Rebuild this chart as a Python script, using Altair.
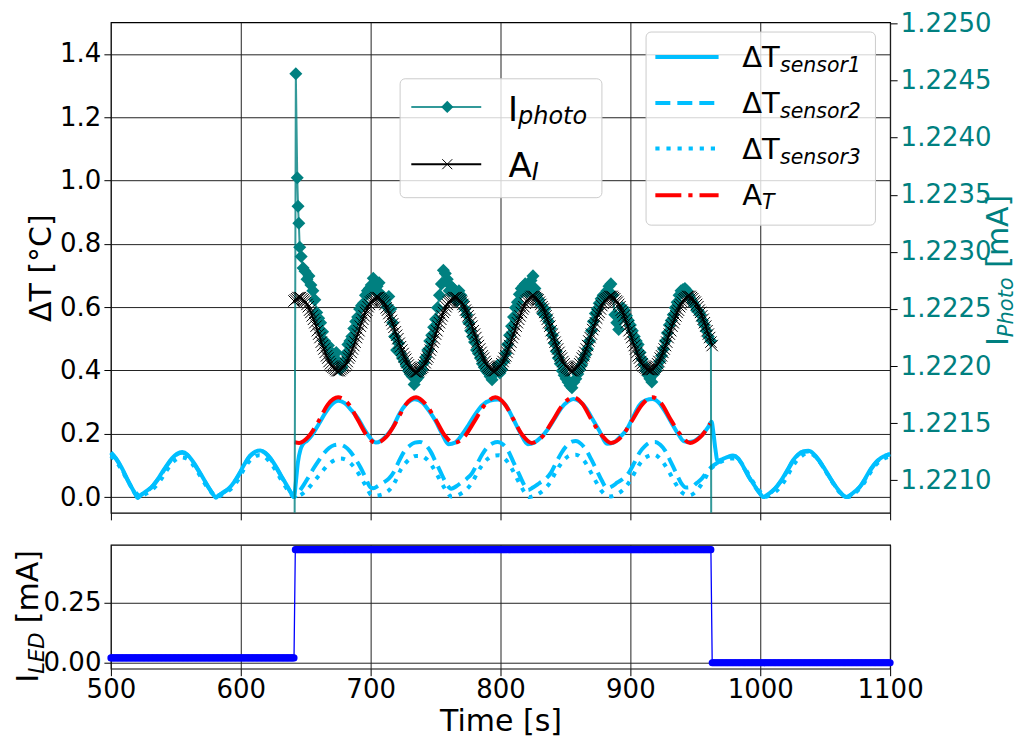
import altair as alt
import pandas as pd

# ---------------- colours / fonts ----------------
TEAL = "#008080"
SKY = "#00BFFF"
RED = "#FF0000"
BLUE = "#0000FF"
FONT = "DejaVu Sans"

# ---------------- axes ----------------
X_DOMAIN = [500, 1100]
X_TICKS = [500, 600, 700, 800, 900, 1000, 1100]
DT_DOMAIN = [-0.05, 1.5]
DT_TICKS = [0.0, 0.2, 0.4, 0.6, 0.8, 1.0, 1.2, 1.4]
IP_DOMAIN = [1.220715, 1.22501]
IP_TICKS = [1.2210, 1.2215, 1.2220, 1.2225, 1.2230, 1.2235, 1.2240, 1.2245, 1.2250]
LED_DOMAIN = [-0.025, 0.49]
LED_TICKS = [0.0, 0.25]

# ---------------- data ----------------
SENSOR1 = [
    (500, 0.141), (504, 0.122), (508, 0.095), (512, 0.062), (516, 0.030), (519, 0.008), (520.7, -0.003),
    (523, 0.006), (527, 0.018), (531, 0.030), (535, 0.050), (539, 0.075), (543, 0.100), (547, 0.122),
    (551, 0.137), (555, 0.142), (559, 0.134), (563, 0.113), (567, 0.088), (571, 0.060), (575, 0.032),
    (578.5, 0.010), (580.8, -0.002), (583, 0.005), (587, 0.016), (591, 0.028), (595, 0.048), (599, 0.075),
    (603, 0.105), (607, 0.130), (611, 0.143), (615, 0.147), (619, 0.140), (623, 0.122), (627, 0.097),
    (631, 0.068), (635, 0.040), (638.5, 0.015), (641, 0.0),
    (642.5, 0.05), (644, 0.11), (646, 0.150), (648, 0.168), (651, 0.178), (655, 0.197), (660, 0.230),
    (665, 0.265), (670, 0.292), (675, 0.304), (680, 0.297), (685, 0.275), (690, 0.250), (695, 0.215),
    (700, 0.185), (704, 0.172), (708, 0.178), (712, 0.193), (717, 0.220), (722, 0.262), (727, 0.292),
    (734, 0.309), (740, 0.298), (745, 0.272), (750, 0.240), (755, 0.200), (760, 0.167), (765, 0.172),
    (770, 0.195), (775, 0.225), (780, 0.258), (786, 0.290), (792, 0.305), (798, 0.308), (804, 0.290),
    (810, 0.245), (815, 0.205), (821, 0.167), (826, 0.172), (831, 0.188), (836, 0.212), (842, 0.250),
    (847, 0.282), (852, 0.302), (856, 0.310), (861, 0.302), (866, 0.280), (871, 0.245), (876, 0.210),
    (882, 0.168), (887, 0.172), (892, 0.190), (897, 0.212), (902, 0.252), (907, 0.290), (912, 0.306),
    (917, 0.310), (922, 0.298), (927, 0.268), (932, 0.232), (937, 0.198), (941, 0.177), (945, 0.174),
    (949, 0.177), (953, 0.188), (957, 0.205), (960, 0.222), (962.5, 0.238), (964, 0.200), (965.5, 0.150),
    (967, 0.115), (971, 0.120), (975, 0.127), (979, 0.131), (983, 0.122), (987, 0.096), (991, 0.066),
    (995, 0.040), (999, 0.016), (1002.5, 0.0), (1005, 0.006), (1009, 0.018), (1013, 0.035), (1017, 0.058),
    (1021, 0.086), (1025, 0.115), (1029, 0.134), (1033, 0.144), (1037, 0.146), (1041, 0.137), (1045, 0.118),
    (1049, 0.093), (1053, 0.066), (1057, 0.040), (1061, 0.018), (1064.5, 0.003), (1066.7, 0.0), (1069, 0.005),
    (1073, 0.018), (1077, 0.034), (1081, 0.060), (1085, 0.088), (1089, 0.110), (1093, 0.124), (1097, 0.132),
    (1100, 0.135),
]

SENSOR2 = [
    (500, 0.139), (504, 0.120), (508, 0.093), (512, 0.060), (516, 0.029), (519, 0.008), (520.7, -0.002),
    (523, 0.006), (527, 0.017), (531, 0.029), (535, 0.049), (539, 0.073), (543, 0.098), (547, 0.120),
    (551, 0.135), (555, 0.140), (559, 0.132), (563, 0.111), (567, 0.086), (571, 0.058), (575, 0.031),
    (578.5, 0.010), (580.8, -0.001), (583, 0.005), (587, 0.015), (591, 0.027), (595, 0.047), (599, 0.073),
    (603, 0.103), (607, 0.128), (611, 0.141), (615, 0.145), (619, 0.138), (623, 0.120), (627, 0.095),
    (631, 0.066), (635, 0.039), (638.5, 0.014), (641, 0.0),
    (644, 0.012), (648, 0.035), (652, 0.062), (656, 0.090), (660, 0.115), (664, 0.138), (668, 0.155),
    (672, 0.164), (676, 0.166), (680, 0.160), (684, 0.145), (688, 0.122), (692, 0.095), (696, 0.062),
    (700, 0.030), (702, 0.028), (706, 0.036), (710, 0.046), (714, 0.058), (718, 0.080), (722, 0.115),
    (726, 0.145), (730, 0.162), (734, 0.172), (738, 0.174), (742, 0.166), (746, 0.145), (750, 0.112),
    (754, 0.078), (758, 0.045), (762, 0.026), (766, 0.034), (770, 0.046), (774, 0.058), (778, 0.075),
    (782, 0.105), (786, 0.135), (790, 0.158), (794, 0.170), (798, 0.174), (802, 0.166), (806, 0.145),
    (810, 0.110), (814, 0.075), (818, 0.040), (821, 0.022), (825, 0.030), (830, 0.044), (835, 0.058),
    (839, 0.078), (843, 0.110), (847, 0.140), (851, 0.162), (855, 0.175), (858, 0.177), (862, 0.168),
    (866, 0.148), (870, 0.118), (874, 0.085), (878, 0.052), (882, 0.028), (886, 0.034), (890, 0.046),
    (895, 0.060), (899, 0.078), (903, 0.108), (907, 0.140), (911, 0.160), (915, 0.172), (919, 0.174),
    (923, 0.165), (927, 0.145), (931, 0.112), (935, 0.078), (939, 0.045), (943, 0.030), (947, 0.032),
    (951, 0.044), (955, 0.058), (959, 0.080), (963, 0.097), (967, 0.108), (971, 0.118), (975, 0.126),
    (979, 0.130), (983, 0.121), (987, 0.095), (991, 0.065), (995, 0.039), (999, 0.015), (1002.5, 0.0),
    (1005, 0.006), (1009, 0.017), (1013, 0.034), (1017, 0.056), (1021, 0.084), (1025, 0.112), (1029, 0.133),
    (1033, 0.143), (1037, 0.144), (1041, 0.135), (1045, 0.116), (1049, 0.091), (1053, 0.065), (1057, 0.039),
    (1061, 0.017), (1064.5, 0.003), (1066.7, 0.0), (1069, 0.005), (1073, 0.017), (1077, 0.033), (1081, 0.058),
    (1085, 0.086), (1089, 0.108), (1093, 0.123), (1097, 0.132), (1100, 0.135),
]

SENSOR3 = [
    (500, 0.130), (504, 0.112), (508, 0.088), (512, 0.058), (516, 0.030), (520, 0.010), (522.5, 0.0),
    (526, 0.008), (530, 0.018), (534, 0.032), (538, 0.052), (542, 0.078), (546, 0.102), (550, 0.118),
    (554, 0.125), (558, 0.122), (562, 0.108), (566, 0.085), (570, 0.058), (574, 0.032), (578, 0.012),
    (582, 0.0), (586, 0.008), (590, 0.018), (594, 0.032), (598, 0.055), (602, 0.085), (606, 0.110),
    (610, 0.125), (614, 0.132), (618, 0.128), (622, 0.112), (626, 0.090), (630, 0.062), (634, 0.035),
    (638, 0.012), (641, 0.0),
    (645, 0.004), (649, 0.015), (653, 0.032), (657, 0.052), (661, 0.072), (665, 0.092), (669, 0.108),
    (673, 0.118), (677, 0.122), (681, 0.118), (685, 0.105), (689, 0.085), (693, 0.058), (697, 0.030),
    (700, 0.008), (703, 0.004), (707, 0.006), (711, 0.012), (715, 0.025), (719, 0.050), (723, 0.085),
    (727, 0.108), (731, 0.123), (735, 0.130), (739, 0.130), (743, 0.120), (747, 0.100), (751, 0.072),
    (755, 0.042), (759, 0.015), (762, 0.002), (766, 0.004), (770, 0.012), (774, 0.025), (778, 0.045),
    (782, 0.075), (786, 0.102), (790, 0.120), (794, 0.130), (799, 0.132), (803, 0.122), (807, 0.102),
    (811, 0.072), (815, 0.040), (819, 0.012), (822, 0.0), (826, 0.004), (830, 0.012), (834, 0.025),
    (838, 0.045), (842, 0.075), (846, 0.102), (850, 0.122), (854, 0.132), (858, 0.134), (862, 0.125),
    (866, 0.105), (870, 0.075), (874, 0.045), (878, 0.018), (882, 0.004), (885, 0.002), (889, 0.008),
    (893, 0.018), (897, 0.035), (901, 0.060), (905, 0.090), (909, 0.115), (913, 0.128), (918, 0.134),
    (922, 0.125), (926, 0.105), (930, 0.078), (934, 0.048), (938, 0.022), (942, 0.008), (945, 0.005),
    (949, 0.012), (953, 0.030), (957, 0.055), (961, 0.085), (965, 0.100), (969, 0.110), (973, 0.117),
    (977, 0.122), (981, 0.122), (985, 0.110), (989, 0.085), (993, 0.058), (997, 0.032), (1001, 0.012),
    (1004, 0.0), (1008, 0.008), (1012, 0.018), (1016, 0.035), (1020, 0.060), (1024, 0.090), (1028, 0.115),
    (1032, 0.130), (1036, 0.138), (1040, 0.135), (1044, 0.120), (1048, 0.098), (1052, 0.070), (1056, 0.044),
    (1060, 0.020), (1064, 0.005), (1068, 0.0), (1072, 0.010), (1076, 0.024), (1080, 0.045), (1084, 0.072),
    (1088, 0.097), (1092, 0.113), (1096, 0.123), (1100, 0.128),
]

A_T = [
    (641.5, 0.173), (645, 0.171), (652, 0.190), (660, 0.240), (667, 0.292), (675, 0.315), (683, 0.294),
    (690, 0.245), (697, 0.195), (704, 0.171), (712, 0.190), (720, 0.240), (727, 0.292), (735, 0.315),
    (742, 0.295), (750, 0.245), (757, 0.195), (764, 0.171), (772, 0.190), (780, 0.240), (788, 0.292),
    (796, 0.315), (803, 0.295), (810, 0.245), (817, 0.195), (824, 0.171), (832, 0.190), (840, 0.240),
    (848, 0.292), (856, 0.315), (863, 0.295), (870, 0.245), (878, 0.195), (885, 0.171), (893, 0.190),
    (901, 0.240), (909, 0.292), (917, 0.315), (924, 0.295), (931, 0.245), (939, 0.195), (946, 0.171),
    (954, 0.190), (961.5, 0.232),
]

I_PHOTO_A = [
    (641.2, 1.2195), (642.4, 1.22456), (643.5, 1.22365), (644.1, 1.22340), (644.7, 1.22325),
    (645.4, 1.22304), (646.5, 1.22296),
    (648, 1.22286), (651, 1.22276), (654, 1.22271), (657, 1.22258), (660, 1.22242), (663, 1.22230),
    (666, 1.22219), (669, 1.22213), (672, 1.22206), (675, 1.22204), (678, 1.22199), (681, 1.22211),
    (684, 1.22222), (687, 1.22233), (690, 1.22243), (693, 1.22253), (696, 1.22262), (699, 1.22268),
    (702, 1.22277), (705, 1.22270), (708, 1.22263), (711, 1.22257), (714, 1.22261), (717, 1.22238),
    (720, 1.22214), (723, 1.22211), (726, 1.22204), (729, 1.22196), (732, 1.22191), (735, 1.22188),
    (738, 1.22194), (741, 1.22203), (744, 1.22214), (747, 1.22227), (750, 1.22241), (753, 1.22262),
    (756, 1.22284), (759, 1.22276), (762, 1.22270), (765, 1.22263), (768, 1.22266), (771, 1.22257),
    (774, 1.22245), (777, 1.22231), (780, 1.22221), (783, 1.22211), (786, 1.22202), (789, 1.22196),
    (792, 1.22191), (795, 1.22193), (798, 1.22201), (801, 1.22197), (804, 1.22211), (807, 1.22227),
    (810, 1.22243), (813, 1.22256), (816, 1.22268), (819, 1.22272), (822, 1.22269), (825, 1.22279),
    (828, 1.22262), (831, 1.22254), (834, 1.22250), (837, 1.22239), (840, 1.22227), (843, 1.22213),
    (846, 1.22202), (849, 1.22192), (852, 1.22186), (855, 1.22181), (858, 1.22189), (861, 1.22197),
    (864, 1.22206), (867, 1.22215), (870, 1.22231), (873, 1.22246), (876, 1.22255), (879, 1.22262),
    (882, 1.22266), (885, 1.22272), (888, 1.22245), (891, 1.22232), (894, 1.22251), (897, 1.22244),
    (900, 1.22236), (903, 1.22226), (906, 1.22219), (909, 1.22206), (912, 1.22196), (915, 1.22189),
    (918, 1.22193), (921, 1.22199), (924, 1.22209), (927, 1.22222), (930, 1.22236), (933, 1.22245),
    (936, 1.22256), (939, 1.22266), (942, 1.22268), (945, 1.22262), (948, 1.22256), (951, 1.22249),
    (954, 1.22245), (957, 1.22236), (960, 1.22226), (962, 1.22222), (962.4, 1.2195),
]

I_PHOTO_B = [
    (649.5, 1.22283), (652.5, 1.22279), (655.5, 1.22266), (658.5, 1.22247), (661.5, 1.22238),
    (664.5, 1.22222), (667.5, 1.22218), (670.5, 1.22207), (673.5, 1.22212), (676.5, 1.22197),
    (679.5, 1.22204), (682.5, 1.22219), (685.5, 1.22226), (688.5, 1.22239), (691.5, 1.22250),
    (694.5, 1.22255), (697.5, 1.22266), (700.5, 1.22271), (703.5, 1.22266), (706.5, 1.22273),
    (709.5, 1.22259), (712.5, 1.22252), (715.5, 1.22250), (718.5, 1.22226), (721.5, 1.22220),
    (724.5, 1.22207), (727.5, 1.22200), (730.5, 1.22193), (733.5, 1.22184), (736.5, 1.22190),
    (739.5, 1.22197), (742.5, 1.22208), (745.5, 1.22222), (748.5, 1.22234), (751.5, 1.22251),
    (754.5, 1.22272), (757.5, 1.22281), (760.5, 1.22266), (763.5, 1.22268), (766.5, 1.22257),
    (769.5, 1.22262), (772.5, 1.22250), (775.5, 1.22238), (778.5, 1.22226), (781.5, 1.22214),
    (784.5, 1.22207), (787.5, 1.22199), (790.5, 1.22194), (793.5, 1.22188), (796.5, 1.22196),
    (799.5, 1.22194), (802.5, 1.22204), (805.5, 1.22219), (808.5, 1.22235), (811.5, 1.22251),
    (814.5, 1.22263), (817.5, 1.22270), (820.5, 1.22265), (823.5, 1.22275), (826.5, 1.22268),
    (829.5, 1.22258), (832.5, 1.22246), (835.5, 1.22244), (838.5, 1.22233), (841.5, 1.22220),
    (844.5, 1.22207), (847.5, 1.22196), (850.5, 1.22189), (853.5, 1.22183), (856.5, 1.22186),
    (859.5, 1.22193), (862.5, 1.22201), (865.5, 1.22210), (868.5, 1.22222), (871.5, 1.22239),
    (874.5, 1.22250), (877.5, 1.22259), (880.5, 1.22263), (883.5, 1.22270), (886.5, 1.22262),
    (889.5, 1.22238), (892.5, 1.22243), (895.5, 1.22249), (898.5, 1.22240), (901.5, 1.22231),
    (904.5, 1.22222), (907.5, 1.22212), (910.5, 1.22201), (913.5, 1.22192), (916.5, 1.22186),
    (919.5, 1.22196), (922.5, 1.22204), (925.5, 1.22215), (928.5, 1.22229), (931.5, 1.22240),
    (934.5, 1.22251), (937.5, 1.22262), (940.5, 1.22267), (943.5, 1.22266), (946.5, 1.22259),
    (949.5, 1.22253), (952.5, 1.22248), (955.5, 1.22240), (958.5, 1.22231),
]

A_I_T = list(range(641, 964))
A_I_V = [
    1.22257, 1.22258, 1.22259, 1.22260,
    # 645 - 704
    1.22260, 1.22260, 1.22259, 1.22258, 1.22257, 1.22256, 1.22254, 1.22252, 1.22249, 1.22247,
    1.22244, 1.22241, 1.22238, 1.22235, 1.22231, 1.22228, 1.22225, 1.22221, 1.22218, 1.22215,
    1.22212, 1.22209, 1.22207, 1.22204, 1.22202, 1.22200, 1.22199, 1.22198, 1.22197, 1.22196,
    1.22196, 1.22196, 1.22197, 1.22198, 1.22199, 1.22200, 1.22202, 1.22204, 1.22207, 1.22209,
    1.22212, 1.22215, 1.22218, 1.22221, 1.22225, 1.22228, 1.22231, 1.22235, 1.22238, 1.22241,
    1.22244, 1.22247, 1.22249, 1.22252, 1.22254, 1.22256, 1.22257, 1.22258, 1.22259, 1.22260,
    # 705 - 764
    1.22260, 1.22260, 1.22259, 1.22258, 1.22257, 1.22256, 1.22254, 1.22251, 1.22249, 1.22246,
    1.22243, 1.22240, 1.22237, 1.22234, 1.22230, 1.22227, 1.22224, 1.22220, 1.22217, 1.22214,
    1.22211, 1.22208, 1.22206, 1.22203, 1.22201, 1.22199, 1.22198, 1.22197, 1.22196, 1.22195,
    1.22195, 1.22195, 1.22196, 1.22197, 1.22198, 1.22199, 1.22201, 1.22203, 1.22206, 1.22208,
    1.22211, 1.22214, 1.22217, 1.22221, 1.22224, 1.22228, 1.22231, 1.22235, 1.22238, 1.22241,
    1.22244, 1.22247, 1.22249, 1.22252, 1.22254, 1.22256, 1.22257, 1.22258, 1.22259, 1.22260,
    # 765 - 824
    1.22260, 1.22260, 1.22259, 1.22258, 1.22257, 1.22256, 1.22254, 1.22252, 1.22249, 1.22247,
    1.22244, 1.22241, 1.22238, 1.22235, 1.22231, 1.22228, 1.22225, 1.22221, 1.22218, 1.22215,
    1.22212, 1.22209, 1.22207, 1.22204, 1.22202, 1.22200, 1.22199, 1.22198, 1.22197, 1.22196,
    1.22196, 1.22196, 1.22197, 1.22198, 1.22199, 1.22200, 1.22202, 1.22204, 1.22207, 1.22209,
    1.22212, 1.22215, 1.22218, 1.22221, 1.22225, 1.22228, 1.22231, 1.22235, 1.22238, 1.22241,
    1.22244, 1.22247, 1.22250, 1.22252, 1.22255, 1.22257, 1.22258, 1.22259, 1.22260, 1.22261,
    # 825 - 884
    1.22261, 1.22261, 1.22260, 1.22259, 1.22258, 1.22256, 1.22254, 1.22252, 1.22250, 1.22247,
    1.22244, 1.22241, 1.22238, 1.22235, 1.22231, 1.22228, 1.22225, 1.22221, 1.22218, 1.22215,
    1.22212, 1.22209, 1.22207, 1.22204, 1.22202, 1.22200, 1.22199, 1.22198, 1.22197, 1.22196,
    1.22196, 1.22196, 1.22197, 1.22198, 1.22199, 1.22200, 1.22202, 1.22204, 1.22207, 1.22209,
    1.22212, 1.22215, 1.22218, 1.22222, 1.22225, 1.22228, 1.22232, 1.22235, 1.22238, 1.22242,
    1.22245, 1.22247, 1.22250, 1.22253, 1.22255, 1.22257, 1.22258, 1.22259, 1.22260, 1.22261,
    # 885 - 944
    1.22261, 1.22261, 1.22260, 1.22259, 1.22257, 1.22256, 1.22254, 1.22252, 1.22249, 1.22247,
    1.22244, 1.22241, 1.22238, 1.22235, 1.22231, 1.22228, 1.22225, 1.22221, 1.22218, 1.22215,
    1.22212, 1.22209, 1.22207, 1.22204, 1.22202, 1.22200, 1.22199, 1.22198, 1.22197, 1.22197,
    1.22197, 1.22197, 1.22197, 1.22198, 1.22199, 1.22200, 1.22202, 1.22204, 1.22207, 1.22209,
    1.22212, 1.22215, 1.22218, 1.22221, 1.22225, 1.22228, 1.22231, 1.22235, 1.22238, 1.22241,
    1.22244, 1.22247, 1.22249, 1.22252, 1.22254, 1.22256, 1.22258, 1.22259, 1.22260, 1.22261,
    # 945 - 963
    1.22261, 1.22261, 1.22260, 1.22259, 1.22257, 1.22256, 1.22254, 1.22252, 1.22249, 1.22247,
    1.22244, 1.22241, 1.22238, 1.22235, 1.22231, 1.22228, 1.22225, 1.22221, 1.22218,
]

LED_T = list(range(500, 1101))
LED_LEVELS = [0.02, 0.47, 0.0]
LED_LAST_LOW = 641
LED_LAST_HIGH = 962
LED_V = [LED_LEVELS[0] if t <= LED_LAST_LOW else (LED_LEVELS[1] if t <= LED_LAST_HIGH else LED_LEVELS[2])
         for t in LED_T]

# ---------------- layout ----------------
W = 780
X0 = 110          # page x of the plot areas
TOP0 = 22         # page y of the top plot area
H_TOP = 491
H_BOT = 124
GAP = 32
PAD_LEFT = 5


def px(x):
    return x - X0


def py(y):
    return y - TOP0


def frame(pairs):
    return pd.DataFrame(pairs, columns=["t", "v"])


def x_top():
    return alt.X("t:Q", scale=alt.Scale(domain=X_DOMAIN, nice=False, zero=False),
                 axis=alt.Axis(values=X_TICKS, labels=False, title=None, grid=True))


def x_bot():
    return alt.X("t:Q", scale=alt.Scale(domain=X_DOMAIN, nice=False, zero=False),
                 axis=alt.Axis(values=X_TICKS, format="d", title="Time [s]", grid=True,
                               labelPadding=1, titlePadding=4, labelFlush=False))


def y_dt():
    return alt.Y("v:Q", scale=alt.Scale(domain=DT_DOMAIN, nice=False, zero=False),
                 axis=alt.Axis(values=DT_TICKS, format=".1f", title="ΔT [°C]", grid=True,
                               orient="left", titlePadding=3))


def y_ip():
    return alt.Y("v:Q", scale=alt.Scale(domain=IP_DOMAIN, nice=False, zero=False),
                 axis=alt.Axis(values=IP_TICKS, format=".4f", title=None, grid=False,
                               orient="right", labelColor=TEAL))


def y_led():
    return alt.Y("v:Q", scale=alt.Scale(domain=LED_DOMAIN, nice=False, zero=False),
                 axis=alt.Axis(values=LED_TICKS, format=".2f", title=None, grid=True))


def dt_line(pairs, color, dash=None):
    kw = dict(color=color, strokeWidth=4, interpolate="monotone")
    if dash:
        kw["strokeDash"] = dash
    return alt.Chart(frame(pairs)).mark_line(**kw).encode(x=x_top(), y=y_dt())


ONE = pd.DataFrame({"k": [0]})


def rule(x1, x2, y, color, width, dash=None, opacity=1.0):
    kw = dict(color=color, strokeWidth=width, opacity=opacity)
    if dash:
        kw["strokeDash"] = dash
    return alt.Chart(ONE).mark_rule(**kw).encode(x=alt.value(px(x1)), x2=alt.value(px(x2)),
                                                 y=alt.value(py(y)))


def txt(s, x, y, size, italic=False, angle=0, color="black"):
    kw = dict(text=s, align="left", baseline="alphabetic", font=FONT, fontSize=size, color=color)
    if italic:
        kw["fontStyle"] = "italic"
    if angle:
        kw["angle"] = angle
    return alt.Chart(ONE).mark_text(**kw).encode(x=alt.value(x), y=alt.value(y))


def ptxt(s, x, y, size, italic=False, angle=0, color="black"):
    return txt(s, px(x), py(y), size, italic, angle, color)


def box(x1, x2, y1, y2):
    return alt.Chart(ONE).mark_rect(fill="white", fillOpacity=0.8, stroke="#cccccc", strokeWidth=1,
                                    cornerRadius=5).encode(
        x=alt.value(px(x1)), x2=alt.value(px(x2)), y=alt.value(py(y1)), y2=alt.value(py(y2)))


X_SHAPE = "M-1,-1L1,1M1,-1L-1,1"
DIAMOND_SIZE = 170
X_SIZE = 130

# ---------------- top panel ----------------
DASH2 = [15, 7]
DASH3 = [4.2, 6.9]
DASHDOT = [26, 7, 4.2, 7]

left_group = alt.layer(
    dt_line(SENSOR1, SKY),
    dt_line(SENSOR2, SKY, DASH2),
    dt_line(SENSOR3, SKY, DASH3),
    dt_line(A_T, RED, DASHDOT),
)

ip_df = frame(sorted(I_PHOTO_A + I_PHOTO_B))
ai_df = pd.DataFrame({"t": A_I_T[:len(A_I_V)], "v": A_I_V[:len(A_I_T)]})

right_group = alt.layer(
    alt.Chart(ip_df).mark_line(color=TEAL, strokeWidth=2, opacity=0.8, clip=True).encode(x=x_top(), y=y_ip()),
    alt.Chart(ip_df).mark_point(shape="diamond", filled=True, size=DIAMOND_SIZE, color=TEAL, opacity=1,
                                clip=True).encode(x=x_top(), y=y_ip()),
    alt.Chart(ai_df).mark_line(color="black", strokeWidth=2, clip=True).encode(x=x_top(), y=y_ip()),
    alt.Chart(ai_df).mark_point(shape=X_SHAPE, filled=False, size=X_SIZE, color="black", strokeWidth=1,
                                opacity=1, clip=True).encode(x=x_top(), y=y_ip()),
)

# legend 1 (I_photo, A_I) -- page coordinates
leg1 = [
    box(399.5, 601.5, 78.5, 197.5),
    rule(410.7, 480.7, 106.7, TEAL, 2, opacity=0.8),
    alt.Chart(ONE).mark_point(shape="diamond", filled=True, size=150, color=TEAL, opacity=1).encode(
        x=alt.value(px(446.7)), y=alt.value(py(106.7))),
    rule(410.7, 480.7, 164, "black", 2),
    alt.Chart(ONE).mark_point(shape=X_SHAPE, filled=False, size=100, color="black", strokeWidth=1,
                              opacity=1).encode(x=alt.value(px(446.7)), y=alt.value(py(164))),
    ptxt("I", 507.4, 120.5, 34),
    ptxt("photo", 517.5, 123.5, 24, italic=True),
    ptxt("A", 508, 177, 34),
    ptxt("I", 531.3, 180, 24, italic=True),
]

# legend 2 (sensors, A_T) -- page coordinates
leg2 = [
    box(645.7, 875.3, 31.7, 225),
    rule(655, 718.3, 56.7, SKY, 4),
    rule(655, 718.3, 102.7, SKY, 4, DASH2),
    rule(655, 718.3, 148.3, SKY, 4, DASH3),
    rule(655, 718.3, 195, RED, 4, DASHDOT),
    ptxt("ΔT", 742, 66.7, 29), ptxt("sensor1", 779.8, 71.7, 20.5, italic=True),
    ptxt("ΔT", 742, 112.7, 29), ptxt("sensor2", 779.8, 117.7, 20.5, italic=True),
    ptxt("ΔT", 742, 158.3, 29), ptxt("sensor3", 779.8, 163.3, 20.5, italic=True),
    ptxt("A", 742, 205, 29), ptxt("T", 761.8, 209, 20.5, italic=True),
]

# right axis title  I_Photo [mA] -- page coordinates
right_title = [
    ptxt("I", 1008, 346, 30, angle=270, color=TEAL),
    ptxt("Photo", 1013, 337.1, 21, italic=True, angle=270, color=TEAL),
    ptxt("[mA]", 1008, 267.7, 30, angle=270, color=TEAL),
]

top = alt.layer(left_group, right_group, *leg1, *leg2, *right_title).resolve_scale(
    y="independent").properties(width=W, height=H_TOP)

# ---------------- bottom panel ----------------
led_df = pd.DataFrame({"t": LED_T, "v": LED_V})
bottom = alt.layer(
    alt.Chart(led_df).mark_line(color=BLUE, strokeWidth=1.3).encode(x=x_bot(), y=y_led()),
    alt.Chart(led_df).mark_circle(color=BLUE, size=50, opacity=1).encode(x=x_bot(), y=y_led()),
    txt("I", -78 + PAD_LEFT, 138, 30, angle=270),
    txt("LED", -72 + PAD_LEFT, 129.1, 21, italic=True, angle=270),
    txt("[mA]", -78 + PAD_LEFT, 78.5, 30, angle=270),
).properties(width=W, height=H_BOT)

chart = alt.vconcat(top, bottom, spacing=GAP, bounds="flush").properties(
    padding={"left": PAD_LEFT, "top": 1, "right": 0, "bottom": 0}
).configure_view(stroke="black", strokeWidth=1.2).configure_axis(
    labelFont=FONT, labelFontSize=26, labelColor="black", labelPadding=3, labelFlush=False,
    titleFont=FONT, titleFontSize=30, titleFontWeight="normal", titleColor="black",
    tickSize=7, tickColor="black", tickWidth=1, domain=False,
    gridColor="#222222", gridWidth=1, gridOpacity=1,
)

chart.save("out.html", embed_options={"renderer": "svg", "actions": False})
